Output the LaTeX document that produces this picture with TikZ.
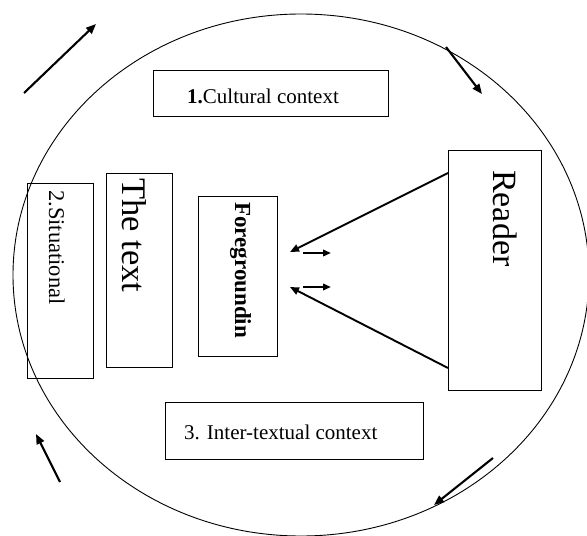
\documentclass[tikz,border=0pt]{standalone}
\usepackage{fontspec}
\setmainfont{Liberation Serif}
\usetikzlibrary{arrows.meta}
\begin{document}
\begin{tikzpicture}[x=1pt,y=-1pt,
  box/.style={draw,line width=1pt,inner sep=0pt},
  lbl/.style={inner sep=0pt,font=\fontsize{21}{24}\selectfont},
  vlbl/.style={inner sep=0pt,rotate=-90,anchor=base west},
  bigarrow/.style={line width=2.1pt,-{Triangle[length=10pt,width=8pt]}},
  conn/.style={line width=1.9pt,-{Triangle[length=9pt,width=7.5pt]}},
  small/.style={line width=1.9pt,-{Triangle[length=8pt,width=6.5pt]}}]
\useasboundingbox (0,0) rectangle (587,536);
\clip (0,0) rectangle (587,536);
\fill[white] (0,0) rectangle (587,536);
% outer ellipse
\draw[line width=0.9pt] (301,275) ellipse [x radius=288pt, y radius=261pt];
% boxes
\node[box,minimum width=235pt,minimum height=46pt] (cult) at (270.5,93) {};
\node[box,minimum width=66pt,minimum height=195pt] (sit) at (60,280.5) {};
\node[box,minimum width=66pt,minimum height=194pt] (txt) at (139,270) {};
\node[box,minimum width=79pt,minimum height=160pt] (fg) at (237.5,276) {};
\node[box,minimum width=93pt,minimum height=240pt] (reader) at (494.5,270) {};
\node[box,minimum width=258pt,minimum height=57pt] (inter) at (294,430.5) {};
% labels
\node[lbl,anchor=base west] (cultl) at (187,103) {\textbf{1.}Cultural context};
\node[lbl,anchor=base west] (interl) at (184,439) {3. Inter-textual context};
\node[vlbl,font=\fontsize{22.5}{26}\selectfont] (sitl) at (49,190) {2.Situational};
\node[vlbl,font=\fontsize{34.5}{40}\selectfont] (txtl) at (122,178) {The text};
\node[vlbl,font=\fontsize{23}{26}\selectfont\bfseries] (fgl) at (235,202) {Foregroundin};
\node[vlbl,font=\fontsize{34}{40}\selectfont] (readerl) at (493,170) {Reader};
% connectors
\coordinate (r1) at (448,173);
\coordinate (r2) at (448,368);
\coordinate (t1) at (290,252);
\coordinate (t2) at (290,287);
\draw[conn] (r1) -- (t1);
\draw[conn] (r2) -- (t2);
\coordinate (s1a) at (303,253);
\coordinate (s1b) at (331,253);
\coordinate (s2a) at (303,287);
\coordinate (s2b) at (331,287);
\draw[small] (s1a) -- (s1b);
\draw[small] (s2a) -- (s2b);
% cycle arrows
\coordinate (a1) at (24,93);   \coordinate (a1e) at (96,24);
\coordinate (a2) at (446,47);  \coordinate (a2e) at (482,94);
\coordinate (a3) at (493,458); \coordinate (a3e) at (434,505);
\coordinate (a4) at (60,482);  \coordinate (a4e) at (36,434);
\draw[bigarrow] (a1) -- (a1e);
\draw[bigarrow] (a2) -- (a2e);
\draw[bigarrow] (a3) -- (a3e);
\draw[bigarrow] (a4) -- (a4e);
\end{tikzpicture}
\end{document}
